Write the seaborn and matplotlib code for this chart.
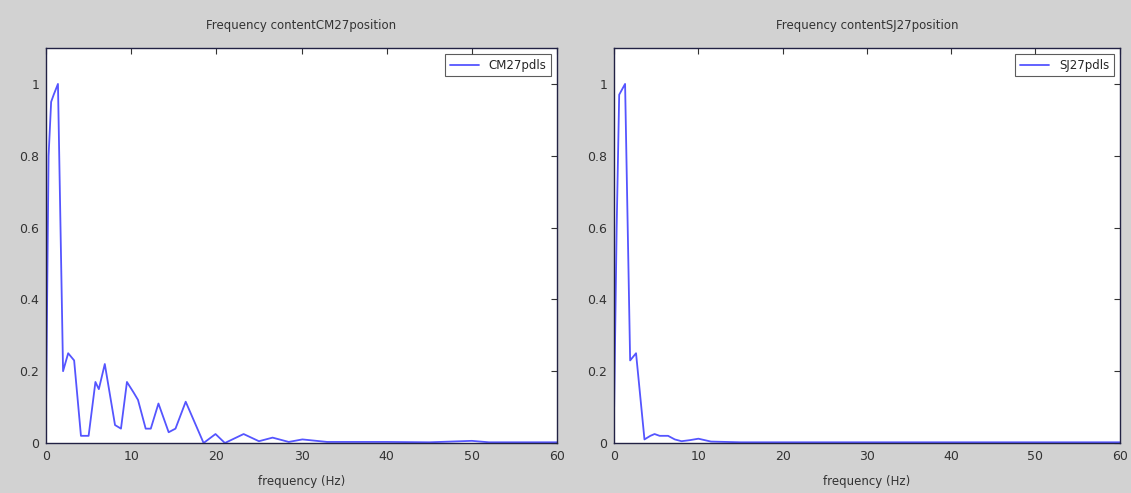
import numpy as np
import pandas as pd
import matplotlib
matplotlib.use("Agg")
import matplotlib.pyplot as plt
import seaborn as sns

# ---- data ----
cm27_freq = [0.0, 0.3, 0.6, 0.9, 1.4, 1.7, 2.0, 2.6, 3.3, 4.1, 5.0, 5.8, 6.2, 6.9, 8.1, 8.8,
             9.5, 10.3, 10.8, 11.7, 12.3, 13.2, 14.4, 15.2, 16.4, 18.5, 19.9, 21.0, 23.2,
             25.0, 26.6, 28.5, 30.1, 33.0, 40.0, 45.0, 50.0, 52.0, 55.0, 60.0]
cm27_amp = [0.10, 0.80, 0.95, 0.97, 1.00, 0.60, 0.20, 0.25, 0.23, 0.02, 0.02, 0.17, 0.15, 0.22, 0.05, 0.04,
            0.17, 0.14, 0.12, 0.04, 0.04, 0.11, 0.03, 0.04, 0.115, 0.00, 0.025, 0.00, 0.025,
            0.005, 0.015, 0.003, 0.01, 0.003, 0.003, 0.002, 0.006, 0.002, 0.002, 0.002]

sj27_freq = [0.0, 0.3, 0.6, 1.3, 1.9, 2.6, 3.6, 4.3, 4.8, 5.4, 6.4, 7.2, 8.0, 9.0, 10.0,
             11.5, 15.0, 20.0, 30.0, 40.0, 50.0, 60.0]
sj27_amp = [0.10, 0.60, 0.97, 1.00, 0.23, 0.25, 0.01, 0.02, 0.025, 0.02, 0.02, 0.01, 0.005, 0.008, 0.012,
            0.004, 0.002, 0.002, 0.002, 0.002, 0.002, 0.002]

titles = ["Frequency contentCM27position", "Frequency contentSJ27position"]
labels = ["CM27pdls", "SJ27pdls"]
xticks = [0, 10, 20, 30, 40, 50, 60]
yticks = [0, 0.2, 0.4, 0.6, 0.8, 1]
ytick_labels = ["0", "0.2", "0.4", "0.6", "0.8", "1"]

sns.set_theme(style="white")
plt.rcParams['font.family'] = ['DejaVu Sans']

fig = plt.figure(figsize=(11.31, 4.93), dpi=100)
fig.patch.set_facecolor("#d2d2d2")

positions = [[0.0407, 0.1014, 0.4518, 0.8012], [0.543, 0.1014, 0.447, 0.8012]]
datasets = [(cm27_freq, cm27_amp), (sj27_freq, sj27_amp)]

for pos, (f, a), title, lab in zip(positions, datasets, titles, labels):
    ax = fig.add_axes(pos)
    ax.set_facecolor("white")
    df = pd.DataFrame({"freq": f, "amp": a})
    sns.lineplot(data=df, x="freq", y="amp", ax=ax, color="#5555ff", lw=1.3, label=lab)
    ax.set_xlim(0, 60)
    ax.set_ylim(0, 1.1)
    ax.set_xticks(xticks)
    ax.set_xticklabels([str(t) for t in xticks])
    ax.set_yticks(yticks)
    ax.set_yticklabels(ytick_labels)
    ax.tick_params(direction="in", length=4, labelsize=9, colors="#333333",
                   top=True, right=True, width=0.8, pad=5)
    for s in ax.spines.values():
        s.set_color("#222244")
        s.set_linewidth(1.0)
    ax.set_title(title, fontsize=8.5, pad=14, color="#333333")
    ax.set_xlabel("frequency (Hz)", fontsize=8.5, color="#333333", labelpad=9)
    ax.set_ylabel("")
    leg = ax.legend(loc="upper right", fontsize=8.5, frameon=True, fancybox=False,
                    handlelength=2.5, borderaxespad=0.5)
    leg.get_frame().set_edgecolor("#333333")
    leg.get_frame().set_linewidth(0.8)

fig.savefig("out.png", dpi=100, facecolor=fig.get_facecolor())
